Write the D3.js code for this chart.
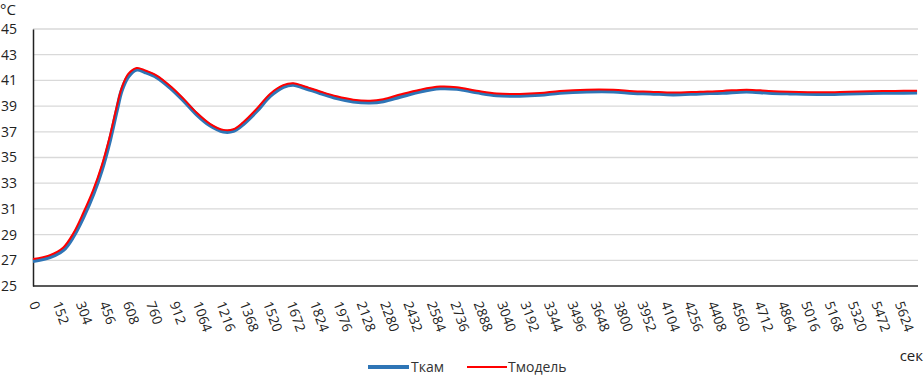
<!DOCTYPE html>
<html><head><meta charset="utf-8">
<script src="https://cdn.jsdelivr.net/npm/d3@7/dist/d3.min.js"></script>
<style>
html,body{margin:0;padding:0;background:#fff;}
svg{display:block;font-family:"Open Sans",sans-serif;}
</style></head>
<body><svg id="c" width="924" height="376"></svg>
<script>
const times = [0,110,197,262,327,392,446,500,544,576,619,674,728,804,890,977,1064,1150,1237,1302,1366,1454,1540,1626,1691,1756,1865,1973,2081,2190,2276,2385,2515,2645,2753,2883,3013,3164,3294,3424,3598,3771,3901,4010,4159,4334,4480,4637,4780,4917,5133,5300,5439,5600,5744];
const tkam = [26.95,27.25,27.8,28.85,30.35,32.15,34.0,36.35,38.65,40.2,41.3,41.85,41.65,41.25,40.45,39.45,38.35,37.5,37.02,37.07,37.6,38.62,39.78,40.5,40.67,40.45,40.02,39.62,39.36,39.28,39.38,39.72,40.13,40.38,40.34,40.07,39.84,39.81,39.88,40.04,40.14,40.14,40.01,39.99,39.91,39.99,40.04,40.14,40.04,39.99,39.94,39.99,40.02,40.04,40.06];
const tmodel = [27.1,27.4,28.0,29.1,30.7,32.5,34.35,36.7,38.95,40.4,41.5,41.97,41.78,41.38,40.58,39.58,38.48,37.62,37.15,37.2,37.75,38.8,39.95,40.63,40.78,40.57,40.14,39.76,39.5,39.42,39.54,39.9,40.28,40.52,40.47,40.2,39.98,39.95,40.02,40.18,40.28,40.27,40.15,40.12,40.05,40.12,40.18,40.28,40.18,40.12,40.08,40.12,40.15,40.18,40.2];
const yTicks = [25,27,29,31,33,35,37,39,41,43,45];
const xTicks = d3.range(0, 5625, 152);
const seriesNames = ["Ткам","Тмодель"];
const yUnit = "°C", xUnit = "сек";

const svg = d3.select("#c");
const L = 33, R = 918, T = 29, B = 286;
const x = d3.scaleLinear().domain([0,5750]).range([L,R]);
const y = d3.scaleLinear().domain([25,45]).range([B,T]);

// gridlines
svg.append("g").selectAll("line").data(yTicks.filter(d=>d>25)).join("line")
  .attr("x1",L).attr("x2",R).attr("y1",d=>y(d)).attr("y2",d=>y(d))
  .attr("stroke","#d9d9d9").attr("stroke-width",1.3);

// y axis labels
const ya = svg.append("g").attr("transform",`translate(${L},0)`)
  .call(d3.axisLeft(y).tickValues(yTicks).tickSize(0).tickPadding(16).tickFormat(d3.format("d")));
ya.select(".domain").attr("stroke","#222").attr("stroke-width",1.5);
ya.selectAll("text").attr("font-size",14).attr("fill","#222").attr("font-family","Open Sans");

// x axis
const xa = svg.append("g").attr("transform",`translate(0,${B})`)
  .call(d3.axisBottom(x).tickValues(xTicks).tickSize(0).tickSizeOuter(0).tickFormat(d3.format("d")));
xa.select(".domain").attr("stroke","#222").attr("stroke-width",1.5).attr("d",`M${L},0H${R}`);
xa.selectAll("text").attr("font-size",13.5).attr("fill","#222").attr("font-family","Open Sans")
  .attr("text-anchor","start").attr("dy","0.35em").attr("y",0)
  .attr("transform","translate(0,16) rotate(70)");

// lines
const line = data => d3.line().x((d,i)=>x(times[i])).y(d=>y(d)).curve(d3.curveCatmullRom.alpha(0.5))(data);
svg.append("path").attr("d",line(tkam)).attr("fill","none").attr("stroke","#2E75B6").attr("stroke-width",4).attr("stroke-linejoin","round");
svg.append("path").attr("d",line(tmodel)).attr("fill","none").attr("stroke","#FF0000").attr("stroke-width",2).attr("stroke-linejoin","round");

// units
svg.append("text").attr("x",0).attr("y",15).attr("font-size",15).attr("fill","#222").text(yUnit);
svg.append("text").attr("x",923).attr("y",361).attr("text-anchor","end").attr("font-size",15).attr("fill","#222").text(xUnit);

// legend
const leg = [{n:seriesNames[0],c:"#2E75B6",w:4,x1:368,x2:409,tx:411},{n:seriesNames[1],c:"#FF0000",w:2,x1:467,x2:507,tx:508}];
const lg = svg.append("g");
leg.forEach(d=>{
  lg.append("line").attr("x1",d.x1).attr("x2",d.x2).attr("y1",367).attr("y2",367).attr("stroke",d.c).attr("stroke-width",d.w);
  lg.append("text").attr("x",d.tx).attr("y",372).attr("font-size",14).attr("fill","#333").text(d.n);
});
</script></body></html>
